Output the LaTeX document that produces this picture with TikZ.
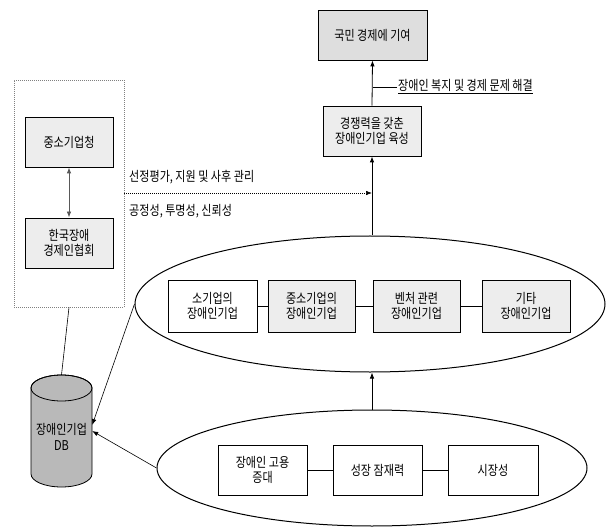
\documentclass[tikz,border=0pt]{standalone}
\usepackage{fontspec}
\setmainfont{Noto Sans CJK KR}[FakeStretch=0.82]
\usetikzlibrary{arrows.meta,shapes.geometric,calc}
\begin{document}
\begin{tikzpicture}[x=1pt,y=-1pt,
  font=\fontsize{13.5}{15.5}\selectfont,
  box/.style={draw=black,line width=0.8pt,rectangle,align=center,inner sep=2pt,minimum width=88pt,minimum height=50pt,fill=white},
  lightdots/.style={box,fill=gray!14},
  densedots/.style={box,fill=gray!26},
  ell/.style={draw=black,line width=1pt,ellipse,inner sep=0pt},
  arr/.style={-{Latex[length=6pt,width=4.5pt]},line width=0.8pt},
  thin/.style={line width=0.6pt},
  txt/.style={inner sep=1pt,anchor=west}]
\useasboundingbox (0,0) rectangle (610,529);
\fill[white] (0,0) rectangle (610,529);

% top chain
\node[densedots,minimum width=109pt,minimum height=50pt] (top) at (372.5,35) {국민 경제에 기여};
\node[lightdots,minimum width=98pt] (mid) at (372,131) {경쟁력을 갖춘\\장애인기업 육성};
\node[txt,anchor=base west] (lbl) at (397,91) {\underline{장애인 복지 및 경제 문제 해결}};

% left group
\node[draw=gray,dash pattern=on 1pt off 1pt,line width=0.6pt,minimum width=110pt,minimum height=227pt] (grp) at (69,193.5) {};
\node[lightdots] (sba) at (69,142) {중소기업청};
\node[lightdots] (kda) at (69,243) {한국장애\\경제인협회};

% labels on dotted arrow
\node[txt] (l1) at (128,177) {선정평가, 지원 및 사후 관리};
\node[txt] (l2) at (128,211) {공정성, 투명성, 신뢰성};

% ellipses
\node[ell,minimum width=470pt,minimum height=136pt] (e1) at (370,304) {};
\node[ell,minimum width=430pt,minimum height=116pt] (e2) at (372,468) {};

% boxes in upper ellipse
\node[box,minimum width=89pt,minimum height=52pt] (b1) at (212.5,306) {소기업의\\장애인기업};
\node[lightdots,minimum width=87pt,minimum height=52pt] (b2) at (311.5,306) {중소기업의\\장애인기업};
\node[lightdots,minimum width=87pt,minimum height=52pt] (b3) at (416.5,306) {벤처 관련\\장애인기업};
\node[lightdots,minimum width=88pt,minimum height=52pt] (b4) at (526,306) {기타\\장애인기업};

% boxes in lower ellipse
\node[box,minimum width=89pt] (c1) at (262.5,470) {장애인 고용\\증대};
\node[box,minimum width=89pt] (c2) at (377.5,470) {성장 잠재력};
\node[box,minimum width=90pt] (c3) at (493,470) {시장성};

% database cylinder
\node[minimum width=61pt,minimum height=112pt,inner sep=0pt] (db) at (61.5,431) {};
\filldraw[draw=black,line width=0.8pt,fill=gray!55]
  (31,388) -- (31,474) arc[start angle=180,end angle=360,x radius=30.5pt,y radius=13pt]
  -- (92,388) arc[start angle=0,end angle=180,x radius=30.5pt,y radius=13pt] -- cycle;
\draw[line width=0.8pt] (61.5,388) ellipse[x radius=30.5pt,y radius=13pt];
\node[align=center,inner sep=0pt] (dbt) at (61.5,437) {장애인기업\\DB};

% connectors
\draw[arr] (mid.north) -- (top.south);
\draw[thin] (lbl.west) -- (lbl.west -| top.south);
\draw[arr] (e1.north -| mid.south) -- (mid.south);
\draw[arr] (e2.north) -- (e2.north |- e1.south);
\draw[-{Latex[length=6pt,width=4.5pt]},thin,dash pattern=on 1pt off 1pt] (grp.east |- 0,193) coordinate (g1) -- (g1 -| mid.south);
\draw[{Latex[length=6pt,width=4.5pt]}-{Latex[length=6pt,width=4.5pt]},line width=0.8pt,draw=gray!70!black] (sba.south) -- (kda.north);
\draw[thin] (grp.south) -- (db.north);
\draw[arr,thin] (e1.west) -- ([yshift=6pt]db.east);
\draw[arr,thin] (e2.west) -- (db.east);
\draw[thin] (b1.east) -- (b2.west);
\draw[thin] (b2.east) -- (b3.west);
\draw[thin] (b3.east) -- (b4.west);
\draw[thin] (c1.east) -- (c2.west);
\draw[thin] (c2.east) -- (c3.west);
\end{tikzpicture}
\end{document}
